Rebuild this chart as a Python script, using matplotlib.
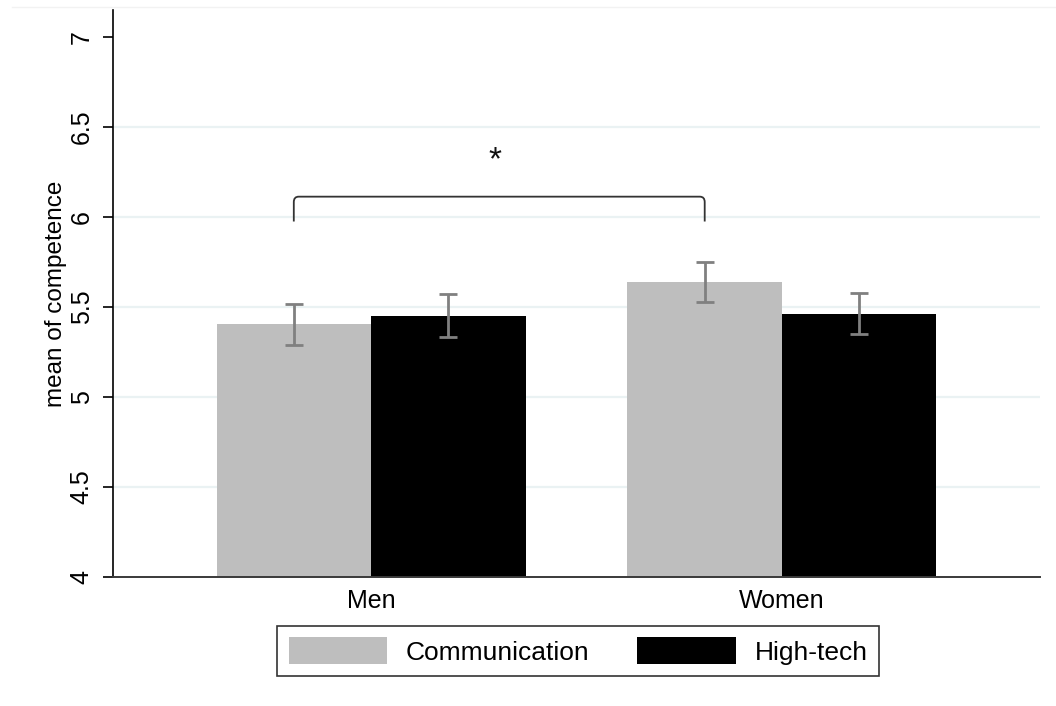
import numpy as np
import matplotlib.pyplot as plt
from matplotlib.lines import Line2D
from matplotlib.path import Path
from matplotlib.patches import PathPatch

plt.rcParams['font.family'] = ['Liberation Sans', 'DejaVu Sans']

groups = ['Men', 'Women']
series = ['Communication', 'High-tech']
means = {
    'Communication': [5.405, 5.639],
    'High-tech': [5.452, 5.462],
}
ci_half = {
    'Communication': [0.114, 0.113],
    'High-tech': [0.118, 0.114],
}
colors = {'Communication': '#bebebe', 'High-tech': '#000000'}

# significance bracket between the two Communication bars
bracket_low = 5.975
bracket_high = 6.113
star_y = 6.31

fig = plt.figure(figsize=(10.56, 7.06), dpi=100)
ax = fig.add_axes([113/1056, 1 - 577/706, (1040 - 113)/1056, (577 - 10)/706])

x = np.arange(len(groups))
w = 0.376
offsets = [-w/2, w/2]

for s, off in zip(series, offsets):
    ax.bar(x + off, means[s], width=w, bottom=0, color=colors[s], label=s,
           zorder=2, linewidth=0)
    ax.errorbar(x + off, means[s], yerr=ci_half[s], fmt='none', ecolor='#808080',
                elinewidth=2, capsize=6.5, capthick=2, zorder=3)

ax.set_ylim(4, 7.15)
ax.set_xlim(-0.628, 1.628)
ax.set_yticks([4, 4.5, 5, 5.5, 6, 6.5, 7])
ax.set_yticklabels(['4', '4.5', '5', '5.5', '6', '6.5', '7'], rotation=90,
                   va='center')
ax.set_xticks(x)
ax.set_xticklabels(groups)
ax.tick_params(axis='y', length=7, width=1.2, labelsize=18, pad=7)
ax.tick_params(axis='x', length=0, labelsize=18, pad=9)
ax.set_ylabel('mean of competence', fontsize=17.5, labelpad=1.5)

for g in [4.5, 5, 5.5, 6, 6.5]:
    ax.axhline(g, color='#eaf2f3', lw=1.6, zorder=1)

for side in ['top', 'right']:
    ax.spines[side].set_visible(False)
ax.spines['left'].set_linewidth(1.2)
ax.spines['bottom'].set_linewidth(1.4)
ax.spines['bottom'].set_color('#3a3a3a')
ax.spines['bottom'].set_zorder(4)

# bracket with slightly rounded corners
x0 = x[0] + offsets[0]
x1 = x[1] + offsets[0]
r = 0.012
verts = [(x0, bracket_low), (x0, bracket_high - 0.03), (x0, bracket_high),
         (x0 + r, bracket_high), (x1 - r, bracket_high), (x1, bracket_high),
         (x1, bracket_high - 0.03), (x1, bracket_low)]
codes = [Path.MOVETO, Path.LINETO, Path.CURVE3, Path.CURVE3, Path.LINETO,
         Path.CURVE3, Path.CURVE3, Path.LINETO]
ax.add_patch(PathPatch(Path(verts, codes), facecolor='none',
                       edgecolor='#333333', lw=1.3, zorder=3))
ax.text((x0 + x1) / 2 - 0.01, star_y, '*', ha='center', va='center',
        fontsize=24, color='#111111')

leg = fig.legend(loc='center', bbox_to_anchor=(578/1056, 1 - 651/706),
                 ncol=2, fontsize=19, handlelength=3.75, handleheight=1.15,
                 handletextpad=0.7, columnspacing=1.8, frameon=True,
                 fancybox=False, borderpad=0.45, borderaxespad=0)
leg.get_frame().set_edgecolor('black')
leg.get_frame().set_linewidth(1.2)

# faint outer border at the top of the graph region
fig.add_artist(Line2D([12/1056, 1], [1 - 7/706, 1 - 7/706],
                      transform=fig.transFigure, color='#f2f2f2', lw=1))

fig.savefig('out.png', dpi=100)
